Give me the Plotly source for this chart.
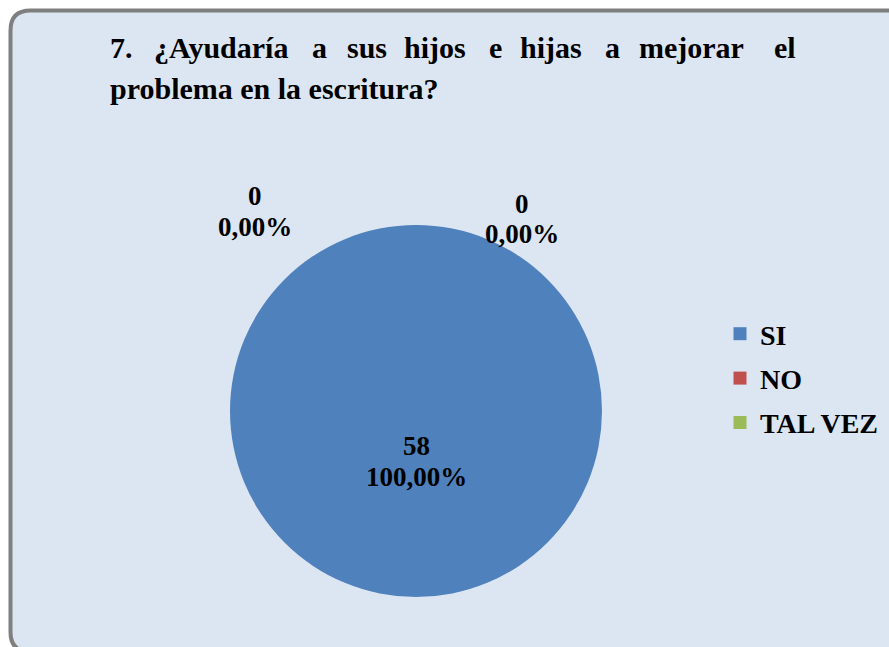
import plotly.graph_objects as go

categories = ["SI", "NO", "TAL VEZ"]
values = [58, 0, 0]
colors = ["#4f81bd", "#c0504d", "#9bbb59"]
title_line1_words = ["7.", "¿Ayudaría", "a", "sus", "hijos", "e", "hijas", "a", "mejorar", "el"]
title_line2 = "problema en la escritura?"

W, H = 889, 647
FONT = "Liberation Serif"

def px(x):
    return x / W

def py(y):
    return 1 - y / H

total = sum(values)
value_texts = [f"{v}" for v in values]
pct_texts = [f"{(v / total * 100) if total else 0:.2f}%".replace(".", ",") for v in values]

fig = go.Figure()
fig.add_trace(go.Pie(
    labels=categories, values=values, sort=False, direction="clockwise",
    rotation=0, marker=dict(colors=colors, line=dict(width=0)),
    textinfo="none", showlegend=False, hoverinfo="label+value+percent",
    domain=dict(x=[px(230), px(602)], y=[py(597), py(225)]),
))
for cat, col in zip(categories, colors):
    fig.add_trace(go.Scatter(
        x=[None], y=[None], mode="markers", name=f"<b>{cat}</b>", legendgroup=cat,
        marker=dict(symbol="square", size=13, color=col),
    ))

# rounded frame
x0, x1, y0, y1, r = 10.5, 915, 10.5, 652, 20
path = (
    f"M {px(x0)},{py(y0 + r)} Q {px(x0)},{py(y0)} {px(x0 + r)},{py(y0)} "
    f"L {px(x1 - r)},{py(y0)} Q {px(x1)},{py(y0)} {px(x1)},{py(y0 + r)} "
    f"L {px(x1)},{py(y1 - r)} Q {px(x1)},{py(y1)} {px(x1 - r)},{py(y1)} "
    f"L {px(x0 + r)},{py(y1)} Q {px(x0)},{py(y1)} {px(x0)},{py(y1 - r)} Z"
)
fig.add_shape(type="path", path=path, xref="paper", yref="paper",
              fillcolor="#dce6f2", line=dict(color="#7f7f7f", width=4), layer="below")

anns = []
tf = dict(family=FONT, size=30, color="black")
word_x = [108, 152, 310, 345, 402, 487, 518, 603, 637, 772]
for w, wx in zip(title_line1_words, word_x):
    anns.append(dict(text=f"<b>{w}</b>", x=px(wx), y=py(48), xanchor="left", yanchor="middle", font=tf))
anns.append(dict(text=f"<b>{title_line2}</b>", x=px(108), y=py(88), xanchor="left", yanchor="middle", font=tf))

lf = dict(family=FONT, size=27, color="black")
# (x, y of value line, y of percent line) per category
label_pos = [(416, 446, 477), (522, 204, 234), (255, 196, 227)]
for vt, pt, (lx, ly1, ly2) in zip(value_texts, pct_texts, label_pos):
    anns.append(dict(text=f"<b>{vt}</b>", x=px(lx), y=py(ly1), xanchor="center", yanchor="middle", font=lf))
    anns.append(dict(text=f"<b>{pt}</b>", x=px(lx), y=py(ly2), xanchor="center", yanchor="middle", font=lf))
for a in anns:
    a.update(xref="paper", yref="paper", showarrow=False)

fig.update_layout(
    width=W, height=H, margin=dict(l=0, r=0, t=0, b=0),
    paper_bgcolor="white", plot_bgcolor="rgba(0,0,0,0)",
    xaxis=dict(visible=False, domain=[0, 0.01]), yaxis=dict(visible=False, domain=[0, 0.01]),
    annotations=anns,
    legend=dict(x=px(720), y=py(309), xanchor="left", yanchor="top", bgcolor="rgba(0,0,0,0)",
                font=dict(family=FONT, size=28, color="black"), tracegroupgap=5,
                traceorder="grouped"),
    showlegend=True,
)

fig.write_html("out.html", config={"displayModeBar": False},
               post_script="document.body.style.margin='0';document.body.style.overflow='hidden';")
